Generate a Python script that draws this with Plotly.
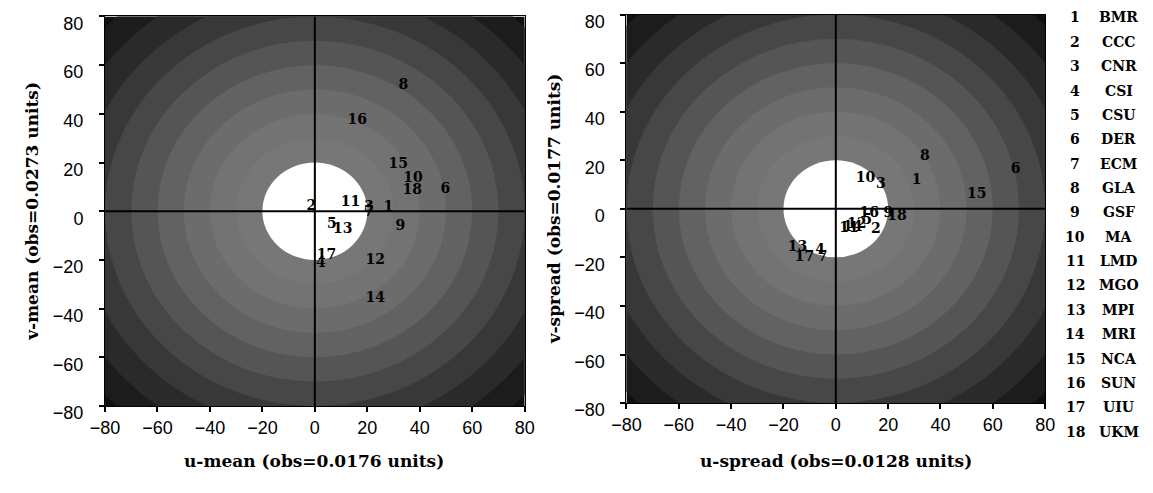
import plotly.graph_objects as go

# ---------------- data ----------------
model_ids = list(range(1, 19))
model_names = ["BMR", "CCC", "CNR", "CSI", "CSU", "DER", "ECM", "GLA", "GSF",
               "MA", "LMD", "MGO", "MPI", "MRI", "NCA", "SUN", "UIU", "UKM"]

# left panel: u-mean / v-mean (percent of obs)
mean_u = [28.0, -1.3, 20.6, 2.3, 6.5, 49.8, 20.6, 33.7, 32.6,
          37.4, 13.6, 23.0, 10.6, 23.0, 31.8, 16.2, 4.4, 37.1]
mean_v = [1.7, 2.1, 1.5, -21.5, -5.4, 9.0, -0.5, 51.6, -6.4,
          13.5, 3.5, -20.2, -7.5, -36.0, 19.3, 37.1, -18.0, 8.3]

# right panel: u-spread / v-spread
spread_u = [30.9, 15.3, 17.2, -6.0, 12.0, 68.7, -5.0, 34.0, 20.0,
            11.3, 5.0, 8.0, -14.6, 6.5, 53.9, 12.8, -12.0, 23.4]
spread_v = [11.7, -8.5, 10.0, -17.0, -5.0, 16.0, -20.0, 21.5, -2.0,
            12.6, -8.0, -6.5, -16.0, -7.7, 6.0, -1.9, -20.0, -3.2]

axis_ticks = [-80, -60, -40, -20, 0, 20, 40, 60, 80]

# background rings (radius in axis units), outermost first
ring_radii = [110, 100, 90, 80, 70, 60, 50, 40, 30, 20]
ring_grays = ["#1c1c1c", "#2a2a2a", "#383838", "#474747", "#555555",
              "#626262", "#6c6c6c", "#737373", "#777777", "#ffffff"]
outer_gray = "#101010"

panel_titles_x = ["u-mean (obs=0.0176 units)", "u-spread (obs=0.0128 units)"]
panel_titles_y = ["v-mean (obs=0.0273 units)", "v-spread (obs=0.0177 units)"]

# ---------------- layout helpers ----------------
W, H = 1153, 493


def px(x):
    return x / W


def py(y):
    return 1 - y / H


SERIF = "DejaVu Serif"
SANS = "Liberation Sans"

fig = go.Figure()

label_font = dict(family=SERIF, size=14, color="black", weight="bold")

fig.add_trace(go.Scatter(
    x=mean_u, y=mean_v, mode="text", text=[str(i) for i in model_ids],
    textfont=label_font, textposition="middle center",
    xaxis="x", yaxis="y", showlegend=False, hoverinfo="skip"))
fig.add_trace(go.Scatter(
    x=spread_u, y=spread_v, mode="text", text=[str(i) for i in model_ids],
    textfont=label_font, textposition="middle center",
    xaxis="x2", yaxis="y2", showlegend=False, hoverinfo="skip"))

shapes = []
for xr, yr in (("x", "y"), ("x2", "y2")):
    shapes.append(dict(type="rect", xref=xr, yref=yr, x0=-80, x1=80, y0=-80, y1=80,
                       fillcolor=outer_gray, line=dict(width=0), layer="below"))
    for r, c in zip(ring_radii, ring_grays):
        shapes.append(dict(type="circle", xref=xr, yref=yr, x0=-r, x1=r, y0=-r, y1=r,
                           fillcolor=c, line=dict(width=0), layer="below"))
    shapes.append(dict(type="line", xref=xr, yref=yr, x0=-80, x1=80, y0=0, y1=0,
                       line=dict(color="black", width=2), layer="below"))
    shapes.append(dict(type="line", xref=xr, yref=yr, x0=0, x1=0, y0=-80, y1=80,
                       line=dict(color="black", width=2), layer="below"))

axis_common = dict(range=[-80, 80], tickvals=axis_ticks, showgrid=False, zeroline=False,
                   ticks="outside", ticklen=5, tickwidth=1.5, tickcolor="black",
                   showline=True, linecolor="black", linewidth=1, mirror=True,
                   tickfont=dict(family=SANS, size=18, color="black"), fixedrange=True)
yaxis_extra = dict(ticklabelstandoff=12, ticklabelshift=7, ticklabeloverflow="allow")

annotations = []
# axis titles
for cx, t in zip([306, 839], panel_titles_x):
    annotations.append(dict(x=px(cx), y=py(477), xref="paper", yref="paper", text=t,
                            showarrow=False, xanchor="center", yanchor="middle",
                            font=dict(family=SERIF, size=17, color="black", weight="bold")))
for cx, cy, t in zip([18, 551], [217, 215], panel_titles_y):
    annotations.append(dict(x=px(cx), y=py(cy), xref="paper", yref="paper", text=t,
                            showarrow=False, xanchor="center", yanchor="middle", textangle=-90,
                            font=dict(family=SERIF, size=17, color="black", weight="bold")))
# model list
for k, (mid, name) in enumerate(zip(model_ids, model_names)):
    yy = 15 + k * 25.4
    annotations.append(dict(x=px(1084), y=py(yy), xref="paper", yref="paper", text=str(mid),
                            showarrow=False, xanchor="center", yanchor="middle",
                            font=dict(family=SERIF, size=14, color="black", weight="bold")))
    annotations.append(dict(x=px(1128), y=py(yy), xref="paper", yref="paper", text=name,
                            showarrow=False, xanchor="center", yanchor="middle",
                            font=dict(family=SERIF, size=14, color="black", weight="bold")))

fig.update_layout(
    width=W, height=H, margin=dict(l=0, r=0, t=0, b=0),
    paper_bgcolor="white", plot_bgcolor="white",
    xaxis=dict(domain=[px(92), px(521)], anchor="y", **axis_common),
    yaxis=dict(domain=[py(420), py(14)], anchor="x", **axis_common, **yaxis_extra),
    xaxis2=dict(domain=[px(625), px(1053)], anchor="y2", **axis_common),
    yaxis2=dict(domain=[py(417), py(12)], anchor="x2", **axis_common, **yaxis_extra),
    shapes=shapes, annotations=annotations, showlegend=False,
)

fig.write_html("out.html")
